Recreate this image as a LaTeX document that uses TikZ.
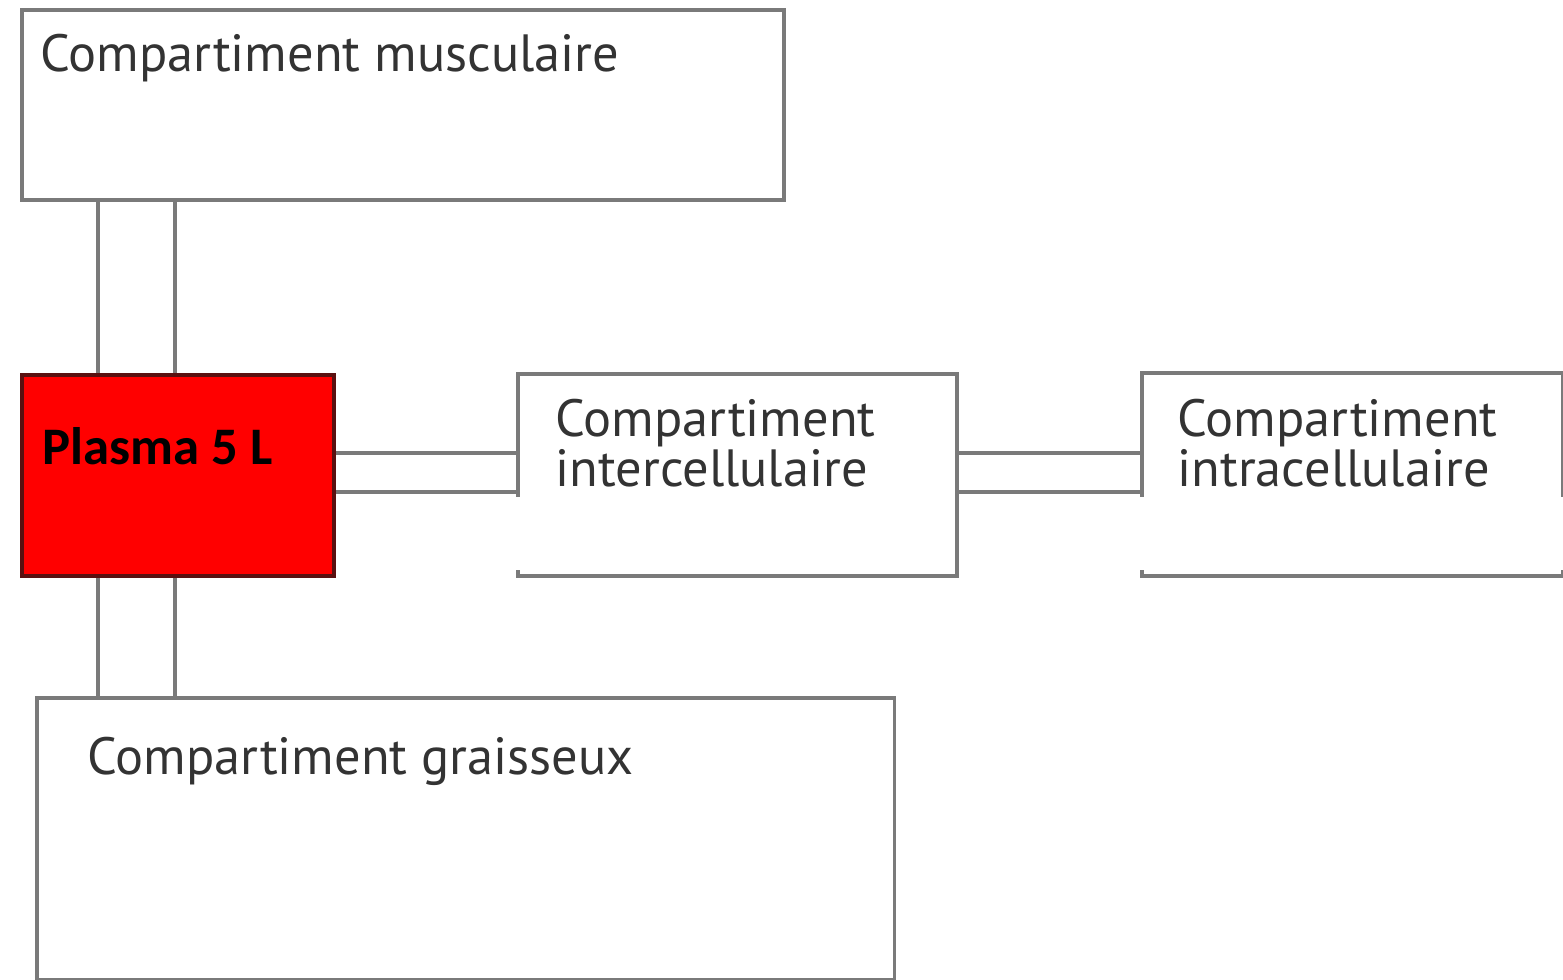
\documentclass[tikz,border=0pt]{standalone}
\usepackage{fontspec}
\setmainfont{PT Sans}
\newfontfamily\plasmafont{Carlito}
\begin{document}
\begin{tikzpicture}[x=0.01cm,y=-0.01cm,
  box/.style={draw=boxgray,line width=1.1pt,fill=white,rectangle,inner sep=0pt,anchor=north west},
  lbl/.style={anchor=base west,inner sep=0pt,text=txtgray,font=\fontsize{14.9}{17}\selectfont,align=left},
  link/.style={draw=boxgray,line width=1pt},
  patch/.style={fill=white,draw=none}]
\definecolor{boxgray}{HTML}{7A7A7A}
\definecolor{txtgray}{HTML}{333333}
\definecolor{plasmared}{HTML}{FF0000}
\definecolor{plasmaedge}{HTML}{5A1010}
\useasboundingbox (0,0) rectangle (1563,980);
% boxes
\node[box,minimum width=7.62cm,minimum height=1.90cm] (muscle) at (20,8) {};
\node[box,fill=plasmared,draw=plasmaedge,minimum width=3.12cm,minimum height=2.01cm] (plasma) at (20,373) {};
\node[box,minimum width=4.39cm,minimum height=2.02cm] (inter) at (516,372) {};
\node[box,minimum width=4.21cm,minimum height=2.03cm] (intra) at (1140,371) {};
\node[box,minimum width=8.57cm,minimum height=2.82cm] (fat) at (35,696) {};
% white patches over lower parts of the borders
\fill[patch] (508,497) rectangle (953,570);
\fill[patch] (1130,497) rectangle (1563,570);
% connectors
\coordinate (xa) at (98,0);
\coordinate (xb) at (175,0);
\coordinate (ya) at (0,453);
\coordinate (yb) at (0,492);
\draw[link] (xa |- muscle.south) -- (xa |- plasma.north);
\draw[link] (xb |- muscle.south) -- (xb |- plasma.north);
\draw[link] (xa |- plasma.south) -- (xa |- fat.north);
\draw[link] (xb |- plasma.south) -- (xb |- fat.north);
\draw[link] (plasma.east |- ya) -- (inter.west |- ya);
\draw[link] (plasma.east |- yb) -- (inter.west |- yb);
\draw[link] (inter.east |- ya) -- (intra.west |- ya);
\draw[link] (inter.east |- yb) -- (intra.west |- yb);
% labels
\node[lbl] (tmuscle) at (40,72) {Compartiment musculaire};
\node[lbl] (tinter1) at (555,437) {Compartiment};
\node[lbl] (tinter2) at (555,487) {intercellulaire};
\node[lbl] (tintra1) at (1177,437) {Compartiment};
\node[lbl] (tintra2) at (1177,487) {intracellulaire};
\node[lbl] (tfat) at (87,775) {Compartiment graisseux};
\node[anchor=base west,inner sep=0pt,font=\plasmafont\bfseries\fontsize{15}{17}\selectfont] (tplasma) at (42,465) {Plasma 5 L};
\end{tikzpicture}
\end{document}
